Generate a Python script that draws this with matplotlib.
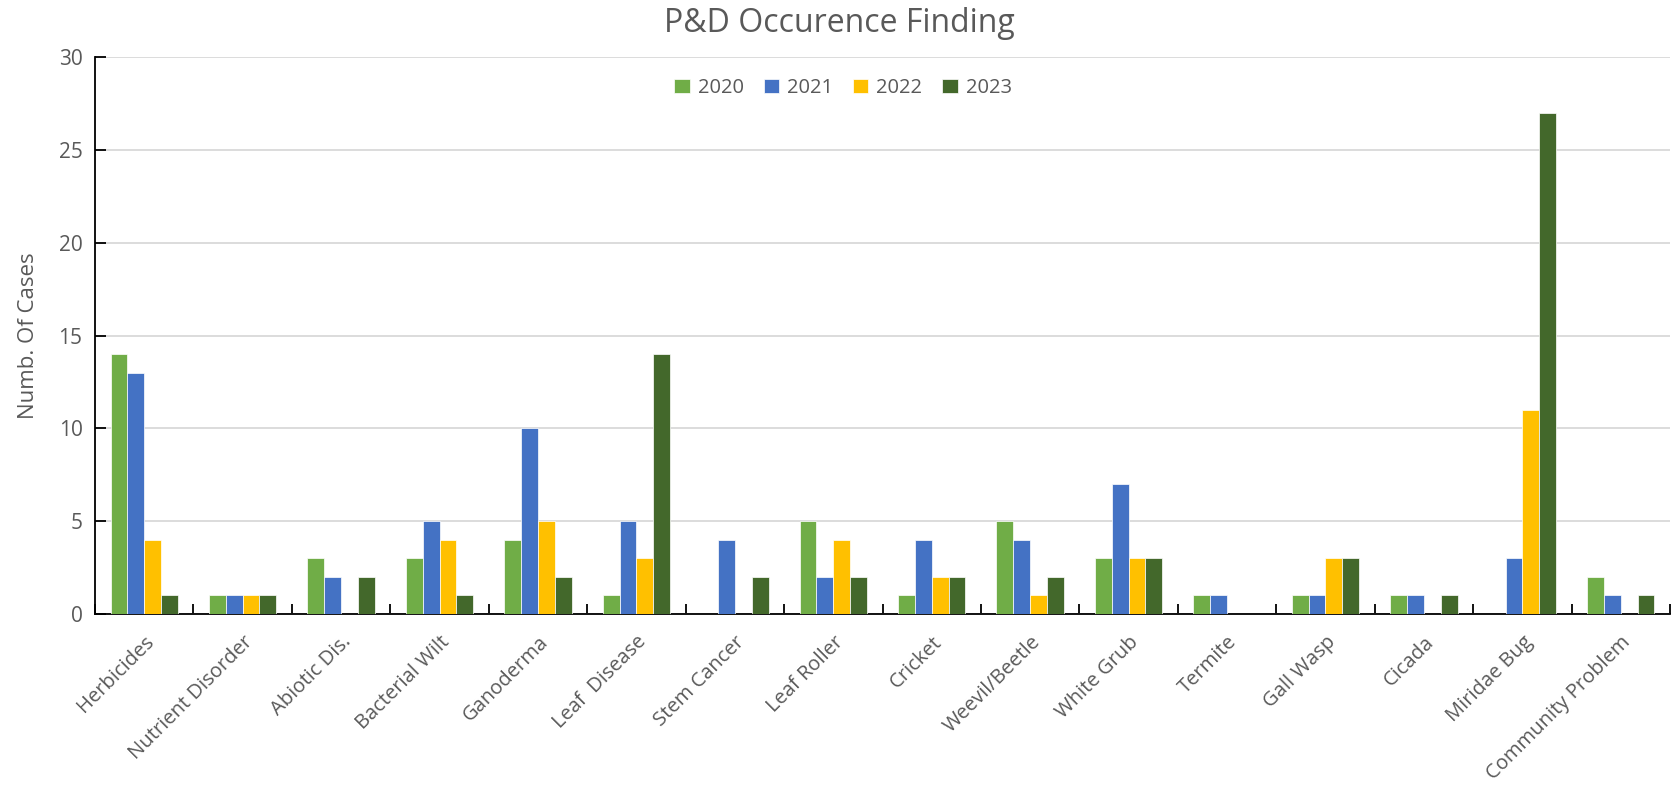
import matplotlib
matplotlib.use("Agg")
import matplotlib.pyplot as plt
import numpy as np

categories = ["Herbicides", "Nutrient Disorder", "Abiotic Dis.", "Bacterial Wilt", "Ganoderma",
              "Leaf  Disease", "Stem Cancer", "Leaf Roller", "Cricket", "Weevil/Beetle",
              "White Grub", "Termite", "Gall Wasp", "Cicada", "Miridae Bug", "Community Problem"]
years = ["2020", "2021", "2022", "2023"]
v2020 = [14, 1, 3, 3, 4, 1, 0, 5, 1, 5, 3, 1, 1, 1, 0, 2]
v2021 = [13, 1, 2, 5, 10, 5, 4, 2, 4, 4, 7, 1, 1, 1, 3, 1]
v2022 = [4, 1, 0, 4, 5, 3, 0, 4, 2, 1, 3, 0, 3, 0, 11, 0]
v2023 = [1, 1, 2, 1, 2, 14, 2, 2, 2, 2, 3, 0, 3, 1, 27, 1]
series = [v2020, v2021, v2022, v2023]
colors = ["#70AD47", "#4472C4", "#FFC000", "#43682B"]

plt.rcParams['font.family'] = ['Open Sans', 'DejaVu Sans']
fig = plt.figure(figsize=(16.79, 7.89), dpi=100)
ax = fig.add_axes([95/1679, 1 - 614/789, (1670-95)/1679, (614-57)/789])

x = np.arange(len(categories))
w = 0.171
for i, (vals, c, y) in enumerate(zip(series, colors, years)):
    ax.bar(x + (i - 1.5) * w, vals, width=w, color=c, edgecolor="white", linewidth=0.5, label=y, zorder=3)

ax.set_xlim(-0.5, len(categories) - 0.5)
ax.set_ylim(0, 30)
ax.set_yticks(range(0, 31, 5))
ax.yaxis.grid(True, color="#D9D9D9", linewidth=1.3, zorder=0)
ax.set_axisbelow(True)
for s in ["top", "right"]:
    ax.spines[s].set_visible(False)
ax.spines["left"].set_color("black")
ax.spines["bottom"].set_color("black")
ax.spines["left"].set_linewidth(1.3)
ax.spines["bottom"].set_linewidth(1.3)

ax.set_xticks(x)
ax.set_xticklabels(categories, rotation=45, ha="right", rotation_mode="anchor", fontsize=14.5, color="#595959")
ax.tick_params(axis="x", which="major", length=0, pad=13)
ax.set_xticks(np.arange(-0.5, len(categories), 1), minor=True)
ax.tick_params(axis="x", which="minor", direction="in", length=7, width=1.3, color="black")
ax.tick_params(axis="y", direction="in", length=8, width=1.3, color="black", labelsize=15, labelcolor="#595959", pad=9)

ax.set_ylabel("Numb. Of Cases", fontsize=16, color="#595959", labelpad=14)
fig.text(0.5, 1 - 23/789, "P&D Occurence Finding", ha="center", va="center", fontsize=23, color="#595959")

leg = ax.legend(loc="center", bbox_to_anchor=(0.475, 1 - 31/557), ncol=4, frameon=False,
                fontsize=14.5, handlelength=0.75, handleheight=0.75, columnspacing=1.0, handletextpad=0.4)
for t in leg.get_texts():
    t.set_color("#595959")

fig.savefig("out.png", dpi=100)
